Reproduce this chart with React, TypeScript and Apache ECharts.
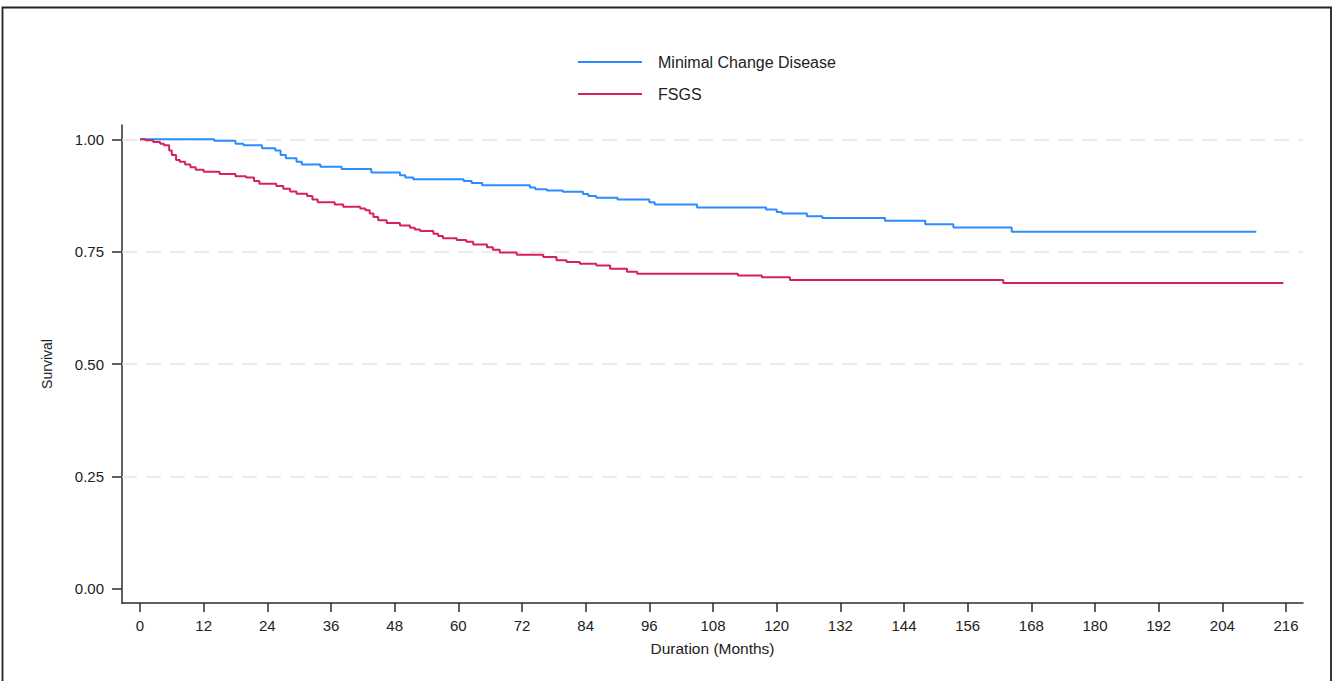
import React, { useEffect, useRef } from "react";
import * as echarts from "echarts";

const seriesNames = ["Minimal Change Disease", "FSGS"];
const xTicks = [0, 12, 24, 36, 48, 60, 72, 84, 96, 108, 120, 132, 144, 156, 168, 180, 192, 204, 216];
const yTicks = [0, 0.25, 0.5, 0.75, 1.0];
const gridValues = [0.25, 0.5, 0.75, 1.0];

// [months, survival after event]
const mcdSurvival: [number, number][] = [
  [0, 1.0], [14, 0.997], [18, 0.99], [19.5, 0.987], [23, 0.98], [25.5, 0.975],
  [26.5, 0.965], [27.5, 0.958], [29.5, 0.95], [30.5, 0.944], [34, 0.939], [38, 0.934],
  [43.6, 0.926], [49, 0.92], [50, 0.915], [51.5, 0.911], [61, 0.907], [62.5, 0.903],
  [64.5, 0.898], [73.5, 0.893], [74.5, 0.889], [76.7, 0.886], [79.7, 0.883], [83.5, 0.878],
  [84.5, 0.874], [86, 0.87], [90, 0.866], [96, 0.86], [97, 0.855], [105, 0.848],
  [118, 0.844], [120, 0.838], [121, 0.835], [125.7, 0.829], [128.6, 0.825], [140.4, 0.819],
  [148, 0.811], [153.3, 0.804], [164.3, 0.794], [210.4, 0.794],
];

const fsgsSurvival: [number, number][] = [
  [0, 1.0], [1, 0.998], [2.5, 0.994], [3.8, 0.99], [4.5, 0.987], [5.5, 0.975], [6, 0.965],
  [6.8, 0.954], [7.5, 0.95], [8.5, 0.944], [9.5, 0.938], [10.5, 0.932], [12, 0.928],
  [15, 0.923], [18, 0.918], [20, 0.915], [21.5, 0.907], [22.5, 0.901], [25.7, 0.896],
  [27, 0.89], [28.3, 0.884], [29.5, 0.879], [31.5, 0.874], [32.5, 0.866], [33.5, 0.86],
  [36.7, 0.855], [38.3, 0.85], [41.5, 0.846], [42.5, 0.842], [43.3, 0.835], [44, 0.827],
  [44.9, 0.82], [46.5, 0.814], [49, 0.808], [50.9, 0.803], [51.8, 0.799], [52.8, 0.796],
  [55.3, 0.79], [56.2, 0.785], [57.1, 0.78], [59.7, 0.776], [61.5, 0.772], [62.8, 0.766],
  [65.4, 0.76], [66.5, 0.754], [67.8, 0.748], [71, 0.743], [76, 0.738], [78.5, 0.731],
  [80.4, 0.727], [82.9, 0.723], [86, 0.719], [88.6, 0.712], [91.8, 0.705], [93.7, 0.701],
  [112.7, 0.697], [117.2, 0.693], [122.5, 0.687], [162.7, 0.68], [215.5, 0.68],
];

const FONT = "'Liberation Sans', Arial, sans-serif";

export default function App() {
  const ref = useRef<HTMLDivElement>(null);
  useEffect(() => {
    if (!ref.current) return;
    const chart = echarts.init(ref.current, null, { renderer: "svg" });
    const axisColor = "#2b2b2b";
    chart.setOption({
      animation: false,
      backgroundColor: "#ffffff",
      textStyle: { fontFamily: FONT },
      graphic: [
        {
          type: "rect",
          shape: { x: 2.5, y: 7.5, width: 1328.5, height: 720 },
          style: { fill: "none", stroke: "#222", lineWidth: 1.8 },
          silent: true,
        },
      ],
      legend: {
        orient: "vertical",
        left: 578,
        top: 54,
        padding: 0,
        itemWidth: 64,
        itemHeight: 14,
        itemGap: 16,
        icon: "path://M0,0 L64,0 L64,2 L0,2 Z",
        data: seriesNames,
        textStyle: { fontSize: 16, color: "#222", fontFamily: FONT, padding: [0, 0, 0, 11] },
      },
      grid: { left: 122, right: 32, top: 125, bottom: 78, containLabel: false },
      xAxis: {
        type: "value",
        min: -3.39,
        max: 219.2,
        name: "Duration (Months)",
        nameLocation: "middle",
        nameGap: 37,
        nameTextStyle: { fontSize: 15.5, color: "#222", fontFamily: FONT },
        axisLine: { show: true, onZero: false, lineStyle: { color: axisColor, width: 1.5 } },
        axisTick: { show: true, length: 9, customValues: xTicks, lineStyle: { color: axisColor, width: 1.5 } },
        axisLabel: { customValues: xTicks, fontSize: 15, color: "#222", margin: 15, fontFamily: FONT },
        splitLine: { show: false },
      },
      yAxis: {
        type: "value",
        min: -0.0318,
        max: 1.0318,
        name: "Survival",
        nameLocation: "middle",
        nameRotate: 90,
        nameGap: 68,
        nameTextStyle: { fontSize: 14, color: "#222", fontFamily: FONT },
        axisLine: { show: true, onZero: false, lineStyle: { color: axisColor, width: 1.5 } },
        axisTick: { show: true, length: 10, customValues: yTicks, lineStyle: { color: axisColor, width: 1.5 } },
        axisLabel: {
          customValues: yTicks,
          fontSize: 15,
          color: "#222",
          margin: 18,
          fontFamily: FONT,
          formatter: (v: number) => v.toFixed(2),
        },
        splitLine: { show: false },
      },
      series: [
        {
          name: seriesNames[0],
          type: "line",
          step: "end",
          symbol: "none",
          data: mcdSurvival,
          lineStyle: { color: "#2a8cff", width: 2 },
          itemStyle: { color: "#2a8cff" },
          z: 3,
          markLine: {
            silent: true,
            symbol: ["none", "none"],
            label: { show: false },
            lineStyle: { color: "#e6e6e6", width: 1.5, type: [15, 9] },
            data: gridValues.map((v) => ({ yAxis: v })),
            z: 1,
          },
        },
        {
          name: seriesNames[1],
          type: "line",
          step: "end",
          symbol: "none",
          data: fsgsSurvival,
          lineStyle: { color: "#d6225a", width: 2 },
          itemStyle: { color: "#d6225a" },
          z: 3,
        },
      ],
    });
    return () => chart.dispose();
  }, []);
  return (
    <div
      ref={ref}
      style={{ position: "absolute", left: 0, top: 0, width: 1335, height: 681 }}
    />
  );
}
